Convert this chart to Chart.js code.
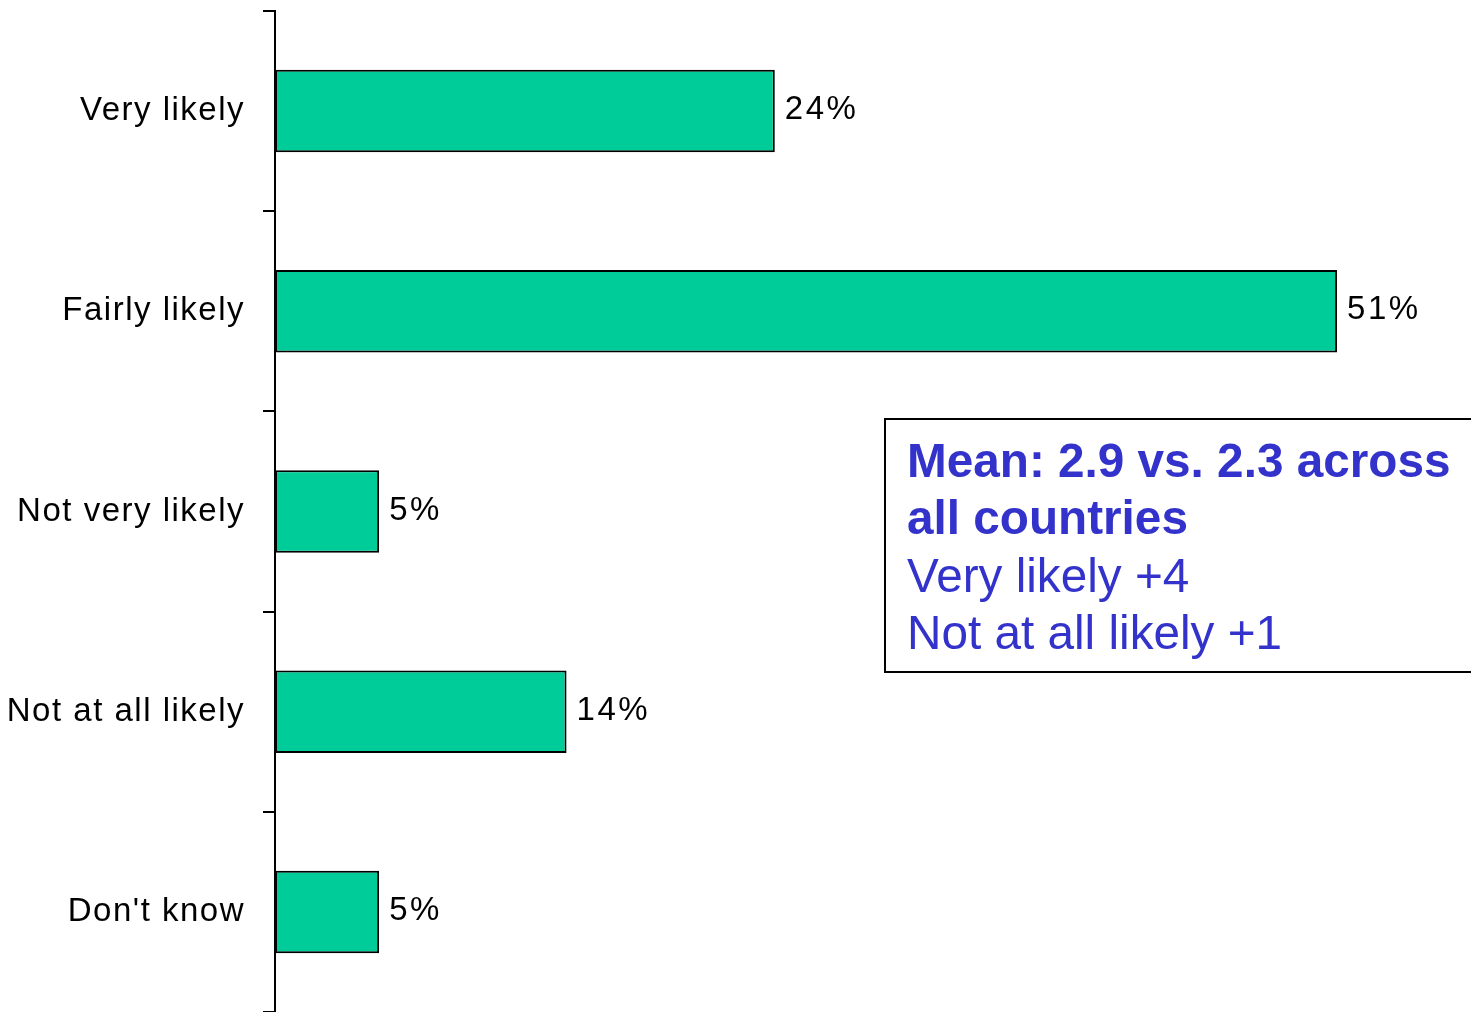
<!DOCTYPE html>
<html>
<head>
<meta charset="utf-8">
<script src="https://cdn.jsdelivr.net/npm/chart.js@4"></script>
<style>
html,body{margin:0;padding:0;background:#fff;overflow:hidden;}
canvas{display:block;}
</style>
</head>
<body>
<canvas id="c" width="1471" height="1012"></canvas>
<script>
const categories = ["Very likely", "Fairly likely", "Not very likely", "Not at all likely", "Don't know"];
const values = [24, 51, 5, 14, 5];
const noteBold = ["Mean: 2.9 vs. 2.3 across", "all countries"];
const noteNormal = ["Very likely +4", "Not at all likely +1"];

const FONT = '"Liberation Sans", Arial, sans-serif';
const BLUE = '#3333CC';

const spacingPlugin = {
  id: 'spacing',
  beforeDraw(chart) { chart.ctx.letterSpacing = '1.5px'; }
};

const valueLabels = {
  id: 'valueLabels',
  afterDatasetsDraw(chart) {
    const ctx = chart.ctx;
    ctx.save();
    ctx.letterSpacing = '2.5px';
    ctx.font = '33px ' + FONT;
    ctx.fillStyle = '#000';
    ctx.textAlign = 'left';
    ctx.textBaseline = 'alphabetic';
    chart.getDatasetMeta(0).data.forEach((bar, i) => {
      ctx.fillText(values[i] + '%', bar.x + 10, bar.y + 8);
    });
    ctx.restore();
  }
};

const noteBox = {
  id: 'noteBox',
  afterDraw(chart) {
    const ctx = chart.ctx;
    ctx.save();
    ctx.letterSpacing = '0px';
    ctx.fillStyle = '#fff';
    ctx.fillRect(885, 419, 600, 253);
    ctx.strokeStyle = '#000';
    ctx.lineWidth = 2;
    ctx.strokeRect(885, 419, 600, 253);
    ctx.fillStyle = BLUE;
    ctx.textAlign = 'left';
    ctx.textBaseline = 'alphabetic';
    let y = 477;
    ctx.font = 'bold 47.7px ' + FONT;
    noteBold.forEach(t => { ctx.fillText(t, 907, y); y += 57.3; });
    ctx.font = '47.7px ' + FONT;
    noteNormal.forEach(t => { ctx.fillText(t, 907, y); y += 57.3; });
    ctx.restore();
  }
};

new Chart(document.getElementById('c'), {
  type: 'bar',
  data: {
    labels: categories,
    datasets: [{
      data: values,
      backgroundColor: '#00CC99',
      borderColor: '#000',
      borderWidth: 2,
      borderSkipped: false,
      categoryPercentage: 1,
      barPercentage: 0.412
    }]
  },
  options: {
    indexAxis: 'y',
    responsive: false,
    animation: false,
    devicePixelRatio: 1,
    layout: { padding: { top: 11, bottom: 0, left: 0, right: 0 } },
    plugins: { legend: { display: false }, tooltip: { enabled: false } },
    scales: {
      x: { display: false, min: 0, max: 57.43 },
      y: {
        afterFit(scale) { scale.width = 275; scale.paddingTop = 0; scale.paddingBottom = 0; },
        grid: { display: true, drawOnChartArea: false, drawTicks: true, tickLength: 12, color: '#000', lineWidth: 2, offset: true },
        border: { display: true, color: '#000', width: 2 },
        ticks: { color: '#000', font: { family: FONT, size: 33 }, padding: 18 }
      }
    }
  },
  plugins: [spacingPlugin, valueLabels, noteBox]
});
</script>
</body>
</html>
